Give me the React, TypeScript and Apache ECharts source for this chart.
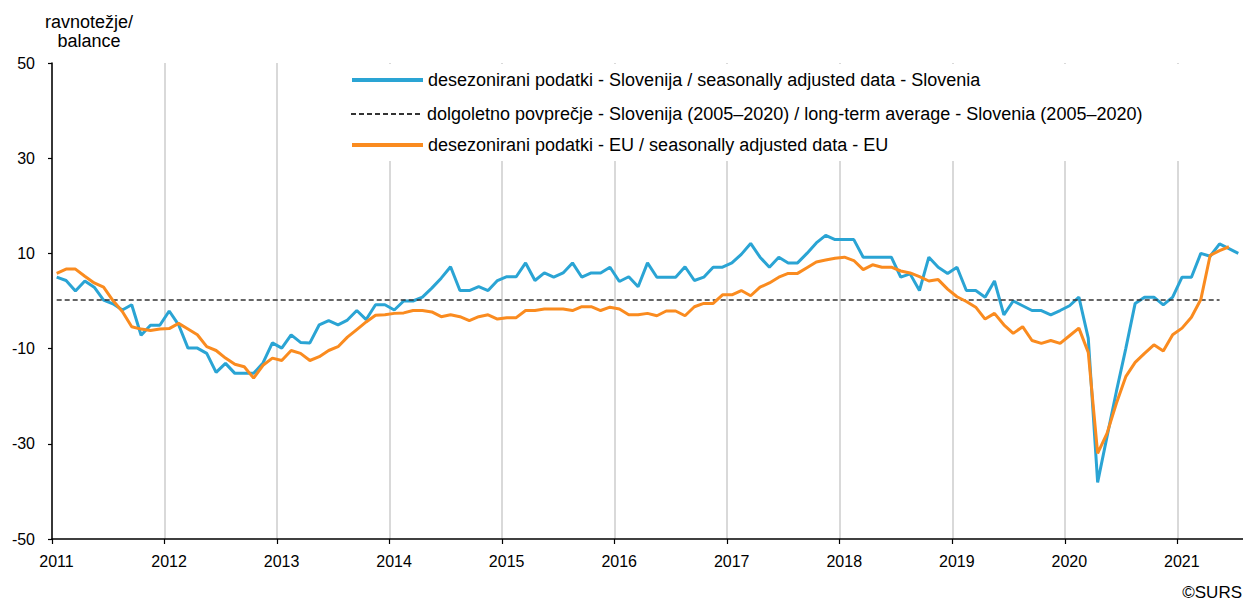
import React, { useEffect, useRef } from "react";
import * as echarts from "echarts";

const FONT = '"Liberation Sans", Arial, sans-serif';

const YEAR_LABELS = ["2011", "2012", "2013", "2014", "2015", "2016", "2017", "2018", "2019", "2020", "2021"];

const NAME_SI = "desezonirani podatki - Slovenija / seasonally adjusted data - Slovenia";
const NAME_AVG = "dolgoletno povprečje - Slovenija (2005–2020) / long-term average - Slovenia (2005–2020)";
const NAME_EU = "desezonirani podatki - EU / seasonally adjusted data - EU";

// Monthly values from January 2011
const SLOVENIA = [
  5, 4.3, 2.1, 4.2, 2.9, 0.2, -0.6, -1.9, -0.8, -7.2, -5.1, -5.1,
  -2.1, -5.0, -9.9, -9.9, -11, -15, -13.1, -15.2, -15.2, -15.2, -13, -8.8,
  -9.9, -7.1, -8.7, -8.8, -5.0, -4.1, -5.0, -4.0, -2.0, -3.9, -0.8, -0.8,
  -1.9, 0, 0, 0.8, 2.7, 4.8, 7.2, 2.2, 2.2, 3.0, 2.2, 4.3,
  5.1, 5.1, 8.0, 4.3, 5.9, 5.0, 5.9, 8.0, 5.0, 5.9, 5.9, 7.1,
  4.1, 5.1, 3.0, 8.0, 5.0, 5.0, 5.0, 7.2, 4.3, 5.0, 7.1, 7.1,
  8.0, 9.8, 12.1, 9.2, 7.1, 9.2, 8.0, 8.0, 10.0, 12.2, 13.8, 12.9,
  12.9, 12.9, 9.2, 9.2, 9.2, 9.2, 5.0, 5.7, 2.2, 9.2, 7.1, 5.8,
  7.1, 2.2, 2.2, 0.8, 4.2, -2.9, 0, -1.0, -2.0, -2.0, -2.9, -2.0,
  -1.0, 0.8, -7.8, -38.1, -28.5, -19, -10, -0.5, 0.8, 0.8, -0.8, 0.8,
  5.0, 5.0, 10.0, 9.4, 12.0, 11.0, 10.0,
];

const EU = [
  5.8, 6.7, 6.7, 5.2, 3.8, 2.9, 0.1, -2.2, -5.4, -5.9, -6.2, -5.9,
  -5.8, -4.7, -5.9, -7.1, -9.6, -10.4, -12.0, -13.3, -13.8, -16.2, -13.5, -12.0,
  -12.5, -10.4, -11.0, -12.5, -11.7, -10.4, -9.6, -7.6, -6.0, -4.4, -3.0, -2.9,
  -2.6, -2.5, -2.0, -2.0, -2.3, -3.3, -2.9, -3.3, -4.1, -3.3, -2.9, -3.8,
  -3.5, -3.5, -2.0, -2.0, -1.7, -1.7, -1.7, -2.0, -1.2, -1.2, -2.0, -1.3,
  -1.7, -2.9, -2.9, -2.6, -3.1, -2.1, -2.1, -3.1, -1.2, -0.5, -0.5, 1.3,
  1.3, 2.2, 1.1, 2.9, 3.8, 5.0, 5.8, 5.8, 7.0, 8.2, 8.6, 9.0,
  9.2, 8.5, 6.6, 7.6, 7.1, 7.1, 6.3, 5.9, 5.1, 4.2, 4.5, 2.5,
  0.9, -0.1, -1.3, -3.8, -2.6, -5.0, -6.8, -5.4, -8.3, -8.9, -8.3, -8.9,
  -7.3, -5.7, -10.8, -32.0, -27.8, -21.5, -15.9, -12.9, -11.0, -9.2, -10.5, -7.1,
  -5.7, -3.4, 0.3, 9.6, 10.6, 11.4,
];

const LONG_TERM_AVG = 0.2;
const AVG_FIRST_MONTH = 0;
const AVG_LAST_MONTH = 124;

const BLUE = "#2AA4D4";
const ORANGE = "#FA8B1F";

export default function App() {
  const ref = useRef<HTMLDivElement>(null);

  useEffect(() => {
    if (!ref.current) return;
    const chart = echarts.init(ref.current, undefined, { renderer: "svg" });

    const toPoints = (arr: number[]) => arr.map((v, i) => [i + 0.5, v]);

    const legendCommon = {
      left: 350,
      padding: 0,
      itemWidth: 71,
      itemHeight: 20,
      selectedMode: false,
      itemStyle: { opacity: 0 },
      textStyle: { fontSize: 18, fontFamily: FONT, color: "#000", lineHeight: 20 },
    };

    chart.setOption({
      animation: false,
      textStyle: { fontFamily: FONT },
      grid: { left: 52, right: 0, top: 63, bottom: 61, containLabel: false },
      xAxis: {
        type: "value",
        min: 0,
        max: 127,
        interval: 12,
        axisLine: { onZero: false, lineStyle: { color: "#000", width: 1.5 } },
        axisTick: { show: true, length: 5, lineStyle: { color: "#000", width: 1.2 } },
        axisLabel: {
          color: "#000",
          fontSize: 16,
          fontFamily: FONT,
          margin: 14,
          padding: [0, 0, 0, 9],
          showMaxLabel: false,
          formatter: (v: number) => (v % 12 === 0 ? YEAR_LABELS[v / 12] ?? "" : ""),
        },
        splitLine: { show: true, showMaxLine: false, lineStyle: { color: "#d9d9d9", width: 2 } },
      },
      yAxis: {
        type: "value",
        min: -50,
        max: 50,
        interval: 20,
        axisLine: { show: true, onZero: false, lineStyle: { color: "#000", width: 1.5 } },
        axisTick: { show: true, length: 4, lineStyle: { color: "#000", width: 1.2 } },
        axisLabel: { color: "#000", fontSize: 16, fontFamily: FONT, margin: 17, padding: [4, 0, 0, 0] },
        splitLine: { show: false },
      },
      legend: [
        { ...legendCommon, top: 70, data: [NAME_SI], lineStyle: { width: 4 } },
        { ...legendCommon, top: 104, data: [NAME_AVG] },
        { ...legendCommon, top: 135, data: [NAME_EU], lineStyle: { width: 4 } },
      ],
      graphic: [
        {
          type: "rect",
          z: 1,
          shape: { x: 340, y: 64, width: 848, height: 97 },
          style: { fill: "#fff" },
        },
        {
          type: "text",
          x: 89,
          y: 12,
          style: {
            text: "ravnotežje/\nbalance",
            align: "center",
            verticalAlign: "top",
            fontSize: 18,
            fontFamily: FONT,
            lineHeight: 19,
            fill: "#000",
          },
        },
        {
          type: "text",
          x: 1242,
          y: 592,
          style: {
            text: "©SURS",
            align: "right",
            verticalAlign: "middle",
            fontSize: 17,
            fontFamily: FONT,
            fill: "#000",
          },
        },
      ],
      series: [
        {
          name: NAME_SI,
          type: "line",
          data: toPoints(SLOVENIA),
          symbol: "none",
          lineStyle: { color: BLUE, width: 3 },
          itemStyle: { color: BLUE },
          z: 3,
        },
        {
          name: NAME_AVG,
          type: "line",
          data: [
            [AVG_FIRST_MONTH + 0.5, LONG_TERM_AVG],
            [AVG_LAST_MONTH + 0.5, LONG_TERM_AVG],
          ],
          symbol: "none",
          lineStyle: { color: "#333", width: 1.4, type: [5, 3] },
          itemStyle: { color: "#333" },
          z: 4,
        },
        {
          name: NAME_EU,
          type: "line",
          data: toPoints(EU),
          symbol: "none",
          lineStyle: { color: ORANGE, width: 3 },
          itemStyle: { color: ORANGE },
          z: 5,
        },
      ],
    });

    return () => chart.dispose();
  }, []);

  return (
    <div
      ref={ref}
      style={{ position: "fixed", left: 0, top: 0, width: 1243, height: 600, background: "#fff" }}
    />
  );
}
